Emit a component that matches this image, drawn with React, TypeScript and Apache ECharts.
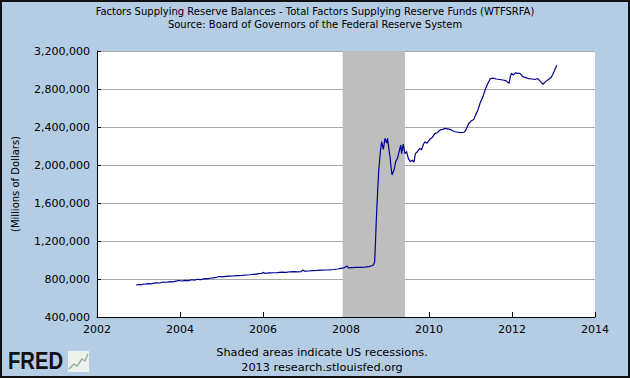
import React, { useEffect, useRef } from "react";
import * as echarts from "echarts";

const titleText = "Factors Supplying Reserve Balances - Total Factors Supplying Reserve Funds (WTFSRFA)";
const subtitleText = "Source: Board of Governors of the Federal Reserve System";
const yAxisName = "(Millions of Dollars)";
const footerLines = ["Shaded areas indicate US recessions.", "2013 research.stlouisfed.org"];
const recession = [2007.92, 2009.42];

const dates = [
  2002.95, 2003.0, 2003.05, 2003.1, 2003.18, 2003.25, 2003.3, 2003.38, 2003.45, 2003.52,
  2003.6, 2003.68, 2003.75, 2003.82, 2003.9, 2003.97, 2004.05, 2004.12, 2004.2, 2004.28,
  2004.35, 2004.42, 2004.5, 2004.58, 2004.65, 2004.72, 2004.8, 2004.88, 2004.95, 2005.02,
  2005.1, 2005.2, 2005.3, 2005.4, 2005.5, 2005.6, 2005.68, 2005.75, 2005.82, 2005.9,
  2005.97, 2006.0, 2006.05, 2006.15, 2006.25, 2006.35, 2006.45, 2006.55, 2006.65, 2006.75,
  2006.82, 2006.92, 2006.96, 2007.0, 2007.1, 2007.2, 2007.3, 2007.4, 2007.5, 2007.6,
  2007.7, 2007.8, 2007.88, 2007.95, 2008.02, 2008.06, 2008.15, 2008.25, 2008.35, 2008.45,
  2008.55, 2008.62, 2008.66, 2008.69, 2008.71, 2008.73, 2008.76, 2008.79, 2008.83, 2008.86,
  2008.9, 2008.94, 2008.98, 2009.0, 2009.03, 2009.06, 2009.09, 2009.11, 2009.14, 2009.16,
  2009.2, 2009.24, 2009.28, 2009.32, 2009.34, 2009.38, 2009.42, 2009.46, 2009.5, 2009.55,
  2009.6, 2009.64, 2009.67, 2009.72, 2009.78, 2009.82, 2009.86, 2009.9, 2009.95, 2010.02,
  2010.08, 2010.14, 2010.2, 2010.27, 2010.33, 2010.39, 2010.45, 2010.51, 2010.57, 2010.63,
  2010.7, 2010.77, 2010.84, 2010.88, 2010.92, 2010.96, 2011.02, 2011.08, 2011.12, 2011.18,
  2011.23, 2011.3, 2011.35, 2011.42, 2011.48, 2011.55, 2011.62, 2011.7, 2011.78, 2011.85,
  2011.9, 2011.93, 2011.96, 2011.99, 2012.03, 2012.08, 2012.14, 2012.19, 2012.26, 2012.33,
  2012.4, 2012.48, 2012.55, 2012.62, 2012.68, 2012.75, 2012.8, 2012.86, 2012.93, 2012.98,
  2013.03, 2013.08,
];

const values = [
  735000, 742000, 738000, 745000, 748000, 752000, 749000, 757000, 760000, 758000,
  768000, 766000, 772000, 770000, 778000, 784000, 779000, 786000, 783000, 792000,
  789000, 797000, 794000, 803000, 801000, 808000, 812000, 818000, 826000, 822000,
  828000, 830000, 832000, 835000, 838000, 842000, 845000, 850000, 848000, 856000,
  858000, 870000, 860000, 864000, 866000, 868000, 872000, 869000, 876000, 878000,
  875000, 878000, 895000, 882000, 884000, 888000, 890000, 893000, 895000, 897000,
  900000, 905000, 912000, 918000, 937000, 918000, 920000, 922000, 923000, 925000,
  930000, 940000, 948000, 980000, 1180000, 1420000, 1700000, 1950000, 2150000, 2245000,
  2165000, 2280000, 2230000, 2280000, 2180000, 2090000, 1960000, 1895000, 1930000, 1950000,
  2040000, 2070000, 2140000, 2210000, 2120000, 2220000, 2120000, 2140000, 2070000, 2035000,
  2050000, 2030000, 2120000, 2140000, 2175000, 2160000, 2210000, 2245000, 2230000, 2270000,
  2290000, 2330000, 2340000, 2370000, 2375000, 2385000, 2380000, 2375000, 2360000, 2350000,
  2345000, 2340000, 2345000, 2360000, 2400000, 2440000, 2465000, 2480000, 2525000, 2580000,
  2650000, 2720000, 2790000, 2860000, 2910000, 2915000, 2905000, 2900000, 2895000, 2888000,
  2870000, 2860000, 2930000, 2965000, 2945000, 2970000, 2965000, 2965000, 2930000, 2920000,
  2910000, 2905000, 2900000, 2910000, 2880000, 2850000, 2875000, 2895000, 2915000, 2950000,
  3000000, 3050000,
];

const FONT = "DejaVu Sans";

export default function App() {
  const ref = useRef<HTMLDivElement>(null);
  useEffect(() => {
    document.body.style.margin = "0";
    const chart = echarts.init(ref.current!, null, { renderer: "svg" });
    const data = dates.map((d, i) => [d, values[i]]);
    chart.setOption({
      animation: false,
      backgroundColor: "#B4CCE4",
      title: {
        text: titleText,
        subtext: subtitleText,
        left: "center",
        top: 1,
        itemGap: 3,
        textStyle: { fontFamily: FONT, fontSize: 10, fontWeight: "normal", color: "#000" },
        subtextStyle: { fontFamily: FONT, fontSize: 10, color: "#000" },
      },
      grid: {
        left: 97,
        right: 35,
        top: 51,
        bottom: 61,
        show: true,
        backgroundColor: "#fff",
        borderWidth: 0,
      },
      xAxis: {
        type: "value",
        min: 2002,
        max: 2014,
        interval: 2,
        axisLine: { show: true, lineStyle: { color: "#000", width: 1 } },
        axisTick: { show: true, inside: true, length: 5, lineStyle: { color: "#000" } },
        splitLine: { show: false },
        axisLabel: {
          fontFamily: FONT,
          fontSize: 11,
          color: "#000",
          margin: 7,
          formatter: (v: number) => String(v),
        },
      },
      yAxis: {
        type: "value",
        min: 400000,
        max: 3200000,
        interval: 400000,
        name: yAxisName,
        nameLocation: "middle",
        nameRotate: 90,
        nameGap: 77,
        nameTextStyle: { fontFamily: FONT, fontSize: 10, color: "#000" },
        axisLine: { show: true, lineStyle: { color: "#000", width: 1 } },
        axisTick: { show: true, inside: true, length: 4, lineStyle: { color: "#000" } },
        splitLine: { show: true, lineStyle: { color: "#A8A8A8", width: 1 } },
        axisLabel: {
          fontFamily: FONT,
          fontSize: 11,
          color: "#000",
          margin: 7,
          formatter: (v: number) => v.toLocaleString("en-US"),
        },
      },
      series: [
        {
          type: "line",
          data,
          showSymbol: false,
          symbol: "none",
          lineStyle: { color: "#00008F", width: 1.2 },
          markArea: {
            silent: true,
            itemStyle: { color: "#BEBEBE", opacity: 1 },
            data: [[{ xAxis: recession[0] }, { xAxis: recession[1] }]],
          },
          z: 3,
        },
      ],
      graphic: [
        {
          type: "text",
          x: 322,
          y: 345,
          style: {
            text: footerLines.join("\n"),
            fontFamily: FONT,
            fontSize: 11.3,
            lineHeight: 15,
            fill: "#000",
            align: "center",
          },
        },
        {
          type: "text",
          x: 8,
          y: 350,
          scaleX: 0.88,
          style: {
            text: "FRED",
            fontFamily: "Liberation Sans",
            fontWeight: 900,
            fontSize: 23,
            fill: "#111",
          },
        },
        {
          type: "rect",
          shape: { x: 68, y: 351, width: 21, height: 21 },
          style: { fill: "#EEF0EE", stroke: "none" },
        },
        {
          type: "polyline",
          shape: { points: [[69, 369], [74, 364], [77, 366], [82, 359], [85, 361], [88, 354]] },
          style: { stroke: "#8CB88C", lineWidth: 1.5, fill: "none" },
        },
        {
          type: "rect",
          shape: { x: 1, y: 1, width: 628, height: 376 },
          style: { fill: "none", stroke: "#111", lineWidth: 2 },
          z: 100,
        },
      ],
    });
    return () => chart.dispose();
  }, []);
  return (
    <div
      ref={ref}
      style={{ position: "fixed", left: 0, top: 0, width: 630, height: 378 }}
    />
  );
}
